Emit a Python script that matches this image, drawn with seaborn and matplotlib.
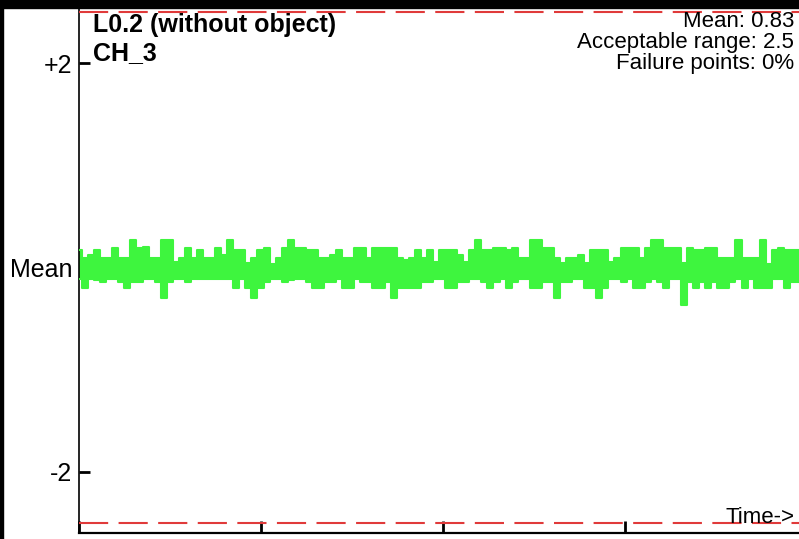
import numpy as np
import seaborn as sns
import matplotlib.pyplot as plt
from matplotlib.patches import Rectangle

# signal envelope, deviation from the mean, one value per ~6px column
upper_dev = [0.17, 0.09, 0.12, 0.17, 0.09, 0.09, 0.19, 0.09, 0.09, 0.27, 0.19, 0.20, 0.09, 0.09, 0.27, 0.27, 0.05, 0.09, 0.19, 0.09, 0.17,
             0.09, 0.09, 0.19, 0.12, 0.27, 0.17, 0.17, 0.04, 0.09, 0.17, 0.19, 0.03, 0.09, 0.19, 0.27, 0.19, 0.19, 0.17, 0.17, 0.09, 0.09, 0.12, 0.17,
             0.09, 0.09, 0.19, 0.19, 0.09, 0.19, 0.19, 0.19, 0.19, 0.09, 0.07, 0.09, 0.17, 0.09, 0.17, 0.05, 0.17, 0.17, 0.17, 0.12,
             0.05, 0.17, 0.27, 0.17, 0.17, 0.19, 0.19, 0.17, 0.19, 0.09, 0.09, 0.27, 0.27, 0.19, 0.19, 0.09, 0.04, 0.09, 0.09, 0.12, 0.04, 0.17, 0.17,
             0.17, 0.05, 0.09, 0.19, 0.19, 0.19, 0.09, 0.19, 0.27, 0.27, 0.19, 0.19, 0.19, 0.04, 0.19, 0.17, 0.17, 0.19, 0.19, 0.09,
             0.09, 0.09, 0.27, 0.09, 0.09, 0.09, 0.27, 0.03, 0.17, 0.19, 0.17, 0.17, 0.17]
lower_dev = [-0.11, -0.20, -0.11, -0.12, -0.14, -0.11, -0.11, -0.14, -0.20, -0.14, -0.14, -0.11, -0.11, -0.14, -0.30, -0.14, -0.11, -0.11, -0.14, -0.11, -0.11,
             -0.11, -0.11, -0.11, -0.11, -0.11, -0.20, -0.11, -0.20, -0.30, -0.20, -0.14, -0.11, -0.11, -0.14, -0.12, -0.11, -0.11, -0.14, -0.20, -0.20, -0.14, -0.14, -0.11,
             -0.20, -0.20, -0.11, -0.14, -0.14, -0.20, -0.20, -0.14, -0.30, -0.20, -0.20, -0.20, -0.20, -0.14, -0.14, -0.11, -0.11, -0.20, -0.20, -0.14,
             -0.14, -0.11, -0.11, -0.14, -0.20, -0.14, -0.11, -0.20, -0.14, -0.11, -0.11, -0.20, -0.20, -0.14, -0.14, -0.30, -0.14, -0.14, -0.11, -0.11, -0.20, -0.20, -0.30,
             -0.20, -0.11, -0.11, -0.14, -0.11, -0.20, -0.20, -0.14, -0.11, -0.14, -0.20, -0.11, -0.11, -0.37, -0.14, -0.20, -0.14, -0.20, -0.14, -0.20,
             -0.20, -0.14, -0.11, -0.20, -0.11, -0.20, -0.20, -0.20, -0.11, -0.11, -0.20, -0.14, -0.14]

mean_val = 0.83
acceptable = 2.5
failure_pct = 0
title_lines = ["L0.2 (without object)", "CH_3"]
ytick_offsets = [2, 0, -2]
ytick_labels = ["+2", "Mean", "-2"]

green = '#3ef53e'
red = '#e03a3a'

sns.set_style('white')
plt.rcParams['font.family'] = ['Liberation Sans', 'DejaVu Sans']
plt.rcParams['text.color'] = 'black'
plt.rcParams['ytick.color'] = 'black'
plt.rcParams['xtick.color'] = 'black'

fig = plt.figure(figsize=(7.99, 5.39), dpi=100)
ax = fig.add_axes([79 / 799, 6 / 539, 720 / 799, 533 / 539])

x = np.arange(len(upper_dev))
upper = mean_val + np.array(upper_dev)
lower = mean_val + np.array(lower_dev)

ax.axhline(mean_val, color='black', lw=1, zorder=1)
ax.fill_between(x, lower, upper, step='mid', color=green, lw=0, zorder=2)
sns.lineplot(x=x, y=upper, ax=ax, color=green, lw=1.5, drawstyle='steps-mid', zorder=3)
sns.lineplot(x=x, y=lower, ax=ax, color=green, lw=1.5, drawstyle='steps-mid', zorder=3)

for s in (1, -1):
    ax.axhline(mean_val + s * acceptable, color=red, lw=1.5, dashes=(14, 5), zorder=4)

ax.set_xlim(0, len(upper_dev) - 1)
ax.set_ylim(mean_val - 2.6, mean_val + 2.62)

col_per_tick = 182 / 720 * (len(upper_dev) - 1)
ax.set_xticks([col_per_tick * i for i in range(4)])
ax.set_xticklabels([])
ax.set_yticks([mean_val + o for o in ytick_offsets])
ax.set_yticklabels(ytick_labels, fontsize=18, color='black')
ax.tick_params(axis='y', direction='in', length=8, width=2, pad=5, left=True, colors='black')
ax.tick_params(axis='x', direction='in', length=9, width=2, bottom=True, colors='black')

for side in ('top', 'right'):
    ax.spines[side].set_visible(False)
ax.spines['left'].set_linewidth(1.2)
ax.spines['left'].set_color('black')
ax.spines['bottom'].set_linewidth(1.6)
ax.spines['bottom'].set_color('black')

# title, top left inside the axes
fig.text(93 / 799, 1 - 32 / 539, title_lines[0], fontsize=18, fontweight='bold', va='baseline', ha='left', color='black')
fig.text(93 / 799, 1 - 60 / 539, title_lines[1], fontsize=18, fontweight='bold', va='baseline', ha='left', color='black')

# stats, top right
stats = [f"Mean: {mean_val}", f"Acceptable range: {acceptable}", f"Failure points: {failure_pct}%"]
for i, s in enumerate(stats):
    fig.text(794 / 799, 1 - (27 + 21 * i) / 539, s, fontsize=16, va='baseline', ha='right', color='black')

fig.text(795 / 799, 1 - 523 / 539, "Time->", fontsize=16, va='baseline', ha='right', color='black')

# black frame strips at top and left
fig.patches.append(Rectangle((0, 1 - 8 / 539), 1, 8 / 539, transform=fig.transFigure, color='black', zorder=10))
fig.patches.append(Rectangle((0, 0), 3 / 799, 1, transform=fig.transFigure, color='black', zorder=10))

fig.savefig('out.png', dpi=100)
